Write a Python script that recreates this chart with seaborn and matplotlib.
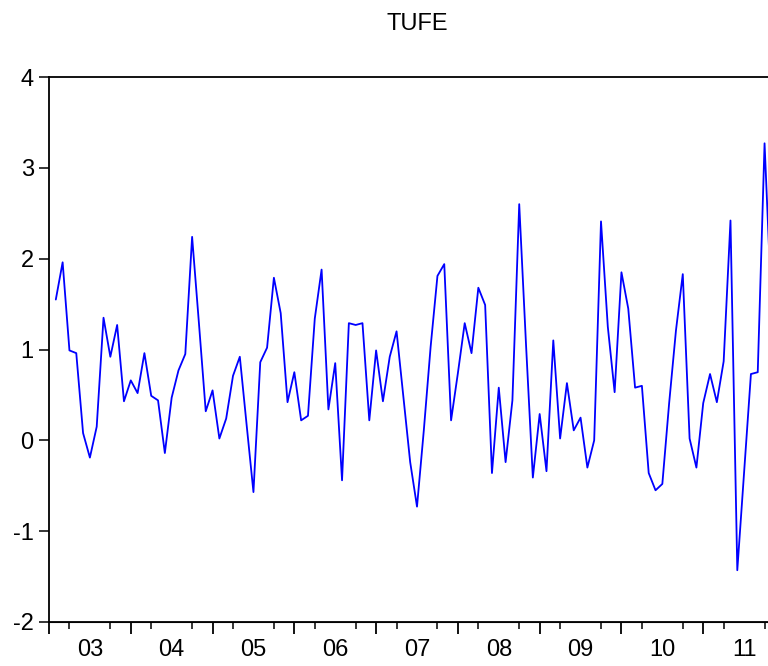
import matplotlib
matplotlib.use("Agg")
import pandas as pd
import matplotlib.pyplot as plt
import seaborn as sns

# monthly TUFE values, first value = 2003M2 (month 1 after Jan 2003)
tufe = [1.55, 1.96, 0.99, 0.96, 0.08, -0.19, 0.15, 1.35, 0.92, 1.27, 0.43, 0.66,
        0.52, 0.96, 0.49, 0.44, -0.14, 0.47, 0.77, 0.95, 2.24, 1.29, 0.32, 0.55,
        0.02, 0.24, 0.71, 0.92, 0.17, -0.57, 0.86, 1.02, 1.79, 1.40, 0.42, 0.75,
        0.22, 0.27, 1.34, 1.88, 0.34, 0.85, -0.44, 1.29, 1.27, 1.29, 0.22, 0.99,
        0.43, 0.92, 1.20, 0.48, -0.24, -0.73, 0.11, 1.03, 1.81, 1.94, 0.22, 0.74,
        1.29, 0.96, 1.68, 1.49, -0.36, 0.58, -0.24, 0.44, 2.60, 1.05, -0.41, 0.29,
        -0.34, 1.10, 0.02, 0.63, 0.11, 0.25, -0.30, 0.00, 2.41, 1.25, 0.53, 1.85,
        1.45, 0.58, 0.60, -0.36, -0.55, -0.48, 0.41, 1.21, 1.83, 0.02, -0.30, 0.41,
        0.73, 0.42, 0.87, 2.42, -1.43, -0.35, 0.73, 0.75, 3.27, 1.50]
month_no = list(range(1, len(tufe) + 1))
year_labels = ["03", "04", "05", "06", "07", "08", "09", "10", "11"]

sns.set_style("white")
plt.rcParams["font.family"] = ["Liberation Sans", "DejaVu Sans"]
plt.rcParams["axes.unicode_minus"] = False
plt.rcParams["text.color"] = "black"
plt.rcParams["xtick.color"] = "black"
plt.rcParams["ytick.color"] = "black"
plt.rcParams["xtick.labelcolor"] = "black"
plt.rcParams["ytick.labelcolor"] = "black"

df = pd.DataFrame({"month": month_no, "TUFE": tufe})

fig = plt.figure(figsize=(7.68, 6.66), dpi=100)
# axes runs past the right edge, like the cropped original
ax = fig.add_axes([49 / 768, 44 / 666, 736 / 768, 545 / 666])
sns.lineplot(data=df, x="month", y="TUFE", color="#0000ff", linewidth=1.3, ax=ax)

ax.set_xlim(0, 108)
ax.set_ylim(-2, 4)
ax.set_xlabel("")
ax.set_ylabel("")
ax.set_title("TUFE", fontsize=17, pad=34, color="black")

for s in ax.spines.values():
    s.set_color("black")
    s.set_linewidth(1.3)

# year labels in the middle of each year, quarter ticks
ax.set_xticks([6 + 12 * i for i in range(len(year_labels))])
ax.set_xticklabels(year_labels)
ax.set_xticks([q for q in range(0, 109, 3) if q % 12], minor=True)
ax.tick_params(axis="x", which="major", length=0, pad=12, labelsize=17, labelcolor="black")
ax.tick_params(axis="x", which="minor", bottom=True, length=5, width=1.1, color="black")

# long ticks at year boundaries
sec = ax.secondary_xaxis("bottom")
sec.set_xticks(range(0, 109, 12))
sec.set_xticklabels([])
sec.tick_params(length=8.5, width=1.3, color="black")

ax.set_yticks(range(-2, 5))
ax.tick_params(axis="y", left=True, length=7, width=1.1, pad=4, labelsize=17,
               color="black", labelcolor="black")

fig.savefig("out.png", dpi=100)
